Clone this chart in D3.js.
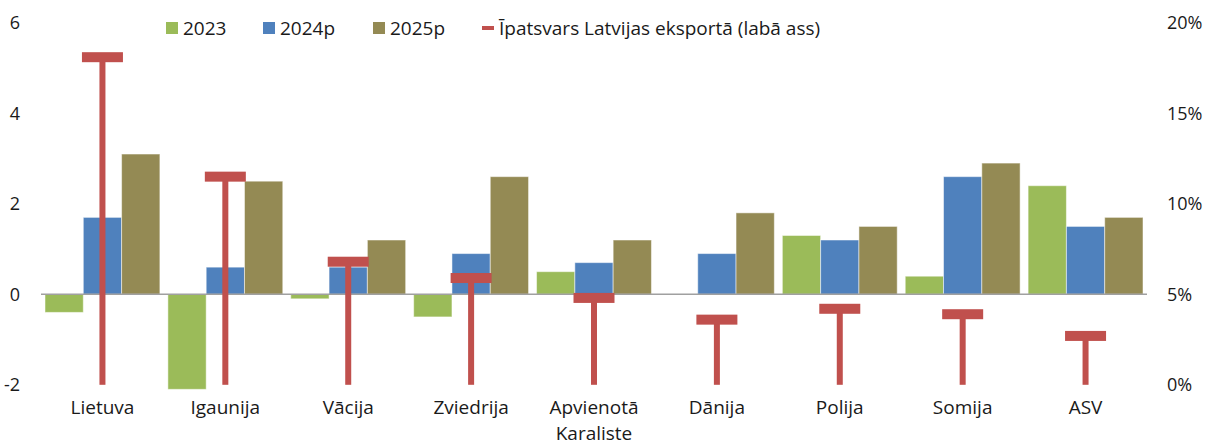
<!DOCTYPE html>
<html>
<head>
<meta charset="utf-8">
<script src="https://cdn.jsdelivr.net/npm/d3@7"></script>
<style>
  body { margin: 0; background: #fff; }
  text { font-family: "Open Sans", sans-serif; fill: #1a1a1a; }
</style>
</head>
<body>
<div id="chart"></div>
<script>
// categories and values
var countries = ["Lietuva", "Igaunija", "Vācija", "Zviedrija", "Apvienotā Karaliste", "Dānija", "Polija", "Somija", "ASV"];
var seriesNames = ["2023", "2024p", "2025p"];
var values2023 = [-0.4, -2.1, -0.1, -0.5, 0.5, 0, 1.3, 0.4, 2.4];
var values2024 = [1.7, 0.6, 0.6, 0.9, 0.7, 0.9, 1.2, 2.6, 1.5];
var values2025 = [3.1, 2.5, 1.2, 2.6, 1.2, 1.8, 1.5, 2.9, 1.7];
var exportShare = [18.1, 11.5, 6.8, 5.9, 4.8, 3.6, 4.2, 3.9, 2.7]; // % right axis
var leftTicks = [-2, 0, 2, 4, 6];
var rightTicks = [0, 5, 10, 15, 20];
var lineLabel = "Īpatsvars Latvijas eksportā (labā ass)";

var colors = { "2023": "#9bbb59", "2024p": "#4f81bd", "2025p": "#948a54" };
var red = "#c0504d";

var width = 1206, height = 447;
var svg = d3.select("#chart").append("svg")
    .attr("width", width)
    .attr("height", height);

var x0 = d3.scaleBand().domain(countries).range([41, 1147]).padding(0);
var x1 = d3.scaleBand().domain(seriesNames).range([4, x0.bandwidth() - 4]).padding(0);
var y = d3.scaleLinear().domain([-2, 6]).range([384.8, 22.8]);
var yR = d3.scaleLinear().domain([0, 20]).range([384.8, 22.8]);

var rows = countries.map(function(c, i) {
  return { name: c, vals: [values2023[i], values2024[i], values2025[i]], share: exportShare[i] };
});

// bars
var groups = svg.append("g").selectAll("g")
    .data(rows)
    .enter().append("g")
    .attr("transform", function(d) { return "translate(" + x0(d.name) + ",0)"; });

groups.selectAll("rect")
    .data(function(d) { return seriesNames.map(function(s, j) { return { s: s, v: d.vals[j] }; }); })
    .enter().append("rect")
    .attr("x", function(d) { return x1(d.s); })
    .attr("width", x1.bandwidth())
    .attr("y", function(d) { return y(Math.max(0, d.v)); })
    .attr("height", function(d) { return Math.abs(y(d.v) - y(0)); })
    .style("fill", function(d) { return colors[d.s]; })
    .style("stroke", "rgba(255,255,255,0.5)")
    .style("stroke-width", 1);

// zero line
svg.append("line")
    .attr("x1", 41).attr("x2", 1147)
    .attr("y1", y(0)).attr("y2", y(0))
    .style("stroke", "#a0a0a0")
    .style("stroke-width", 1.5);

// export share markers (T shapes on right axis)
var marks = svg.append("g").selectAll("g")
    .data(rows)
    .enter().append("g")
    .attr("transform", function(d) { return "translate(" + (x0(d.name) + x0.bandwidth() / 2) + ",0)"; });

marks.append("rect")
    .attr("x", -3)
    .attr("width", 6)
    .attr("y", function(d) { return yR(d.share); })
    .attr("height", function(d) { return yR(0) - yR(d.share); })
    .style("fill", red);

marks.append("rect")
    .attr("x", -20.5)
    .attr("width", 41)
    .attr("y", function(d) { return yR(d.share) - 5; })
    .attr("height", 10)
    .style("fill", red);

// left axis labels
svg.append("g").selectAll("text")
    .data(leftTicks)
    .enter().append("text")
    .attr("x", 20)
    .attr("y", function(d) { return y(d); })
    .attr("dy", "0.35em")
    .attr("text-anchor", "end")
    .attr("font-size", "18px")
    .text(function(d) { return d; });

// right axis labels
svg.append("g").selectAll("text")
    .data(rightTicks)
    .enter().append("text")
    .attr("x", 1167)
    .attr("y", function(d) { return yR(d); })
    .attr("dy", "0.35em")
    .attr("font-size", "18px")
    .text(function(d) { return d + "%"; });

// category labels (one text element per line)
var labelLines = [];
countries.forEach(function(c) {
  var parts = c === "Apvienotā Karaliste" ? ["Apvienotā", "Karaliste"] : [c];
  parts.forEach(function(p, i) { labelLines.push({ cat: c, text: p, line: i }); });
});

svg.append("g").selectAll("text")
    .data(labelLines)
    .enter().append("text")
    .attr("x", function(d) { return x0(d.cat) + x0.bandwidth() / 2; })
    .attr("y", function(d) { return 414 + d.line * 26; })
    .attr("text-anchor", "middle")
    .attr("font-size", "19px")
    .text(function(d) { return d.text; });

// legend
var legendItems = [
  { label: "2023", x: 166, color: colors["2023"] },
  { label: "2024p", x: 263, color: colors["2024p"] },
  { label: "2025p", x: 373, color: colors["2025p"] }
];
var legend = svg.append("g");
legendItems.forEach(function(l) {
  legend.append("rect")
    .attr("x", l.x).attr("y", 22)
    .attr("width", 12).attr("height", 12)
    .style("fill", l.color);
  legend.append("text")
    .attr("x", l.x + 17).attr("y", 28)
    .attr("dy", "0.35em")
    .attr("font-size", "19px")
    .text(l.label);
});
legend.append("rect")
  .attr("x", 482).attr("y", 26)
  .attr("width", 12).attr("height", 4)
  .style("fill", red);
legend.append("text")
  .attr("x", 499).attr("y", 28)
  .attr("dy", "0.35em")
  .attr("font-size", "19px")
  .text(lineLabel);
</script>
</body>
</html>
